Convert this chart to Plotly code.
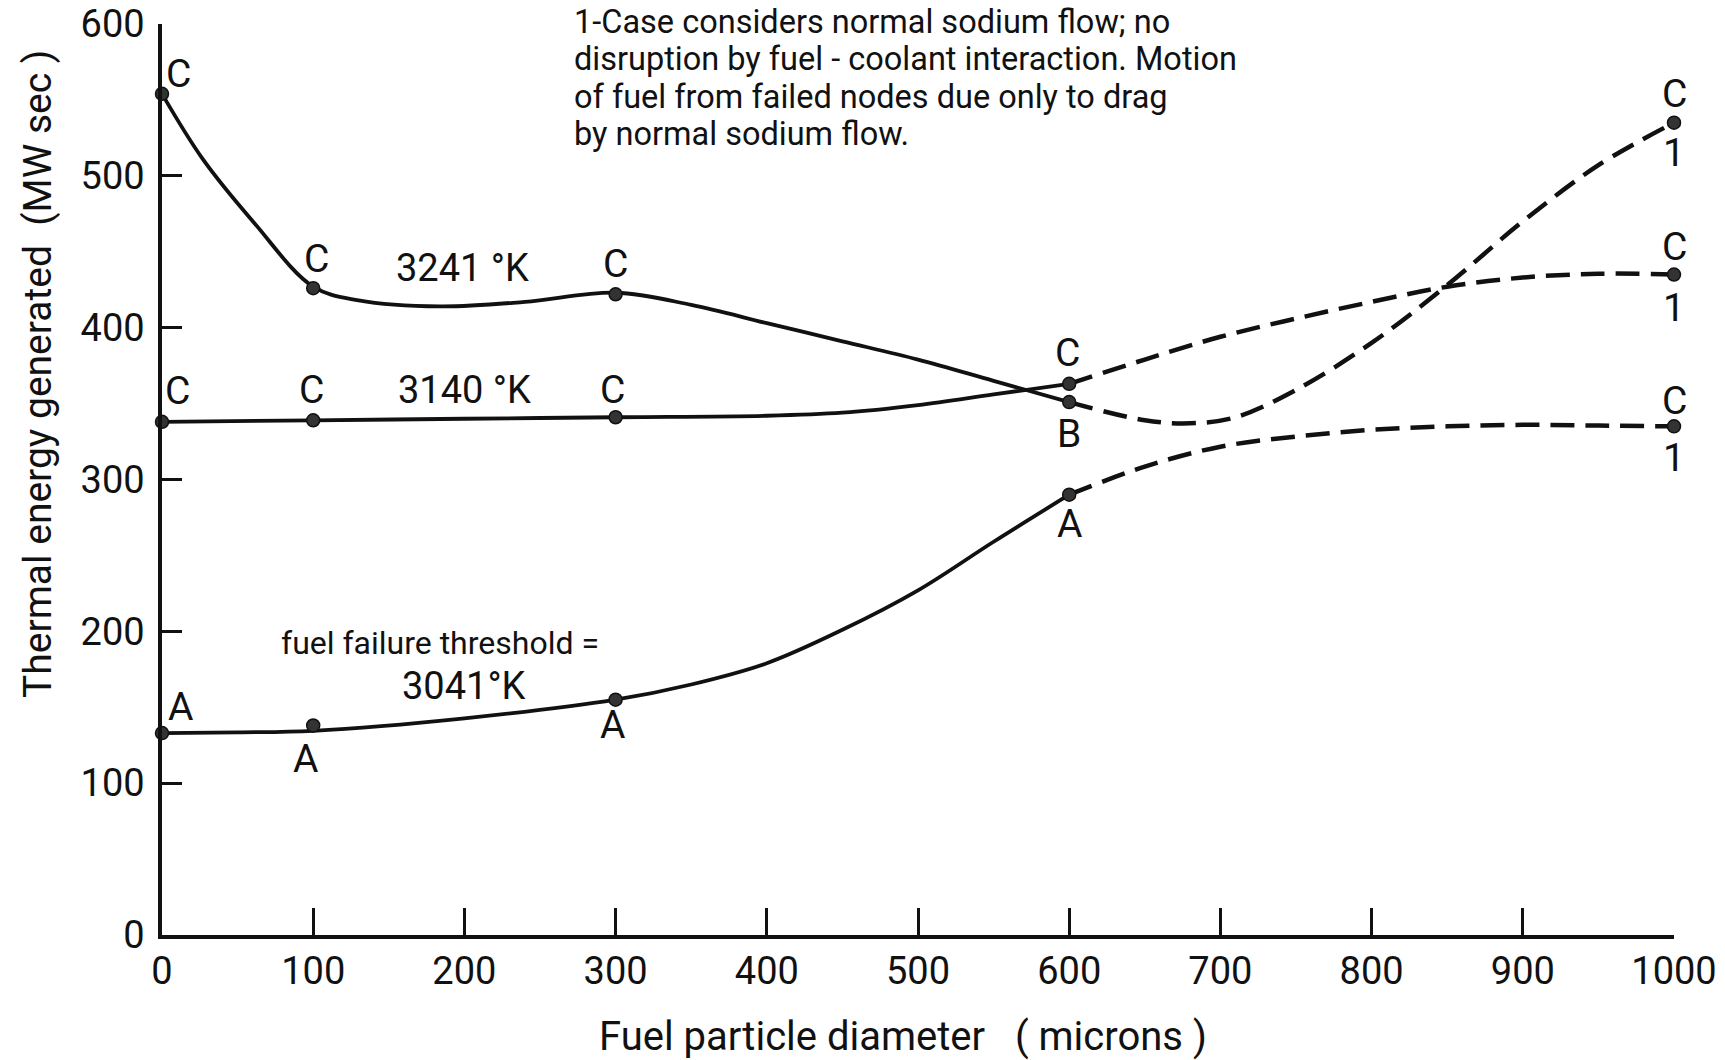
import plotly.graph_objects as go

# ---- data ----
# measured points (markers)
diam_pts = [0, 100, 300, 600]
e3241_pts = [554, 426, 422, 351]
e3140_pts = [338, 339, 341, 363]
e3041_pts = [133, 138, 155, 290]
diam_end = [1000]
e3241_end = [535]
e3140_end = [435]
e3041_end = [335]

# curve paths (solid part)
path3241_x = [0, 27, 61, 100, 130, 184, 240, 300, 350, 400, 450, 500, 550, 600]
path3241_y = [554, 511, 469, 427, 418, 414, 417, 423, 415, 403, 391, 379, 365, 351]
path3140_x = [0, 100, 200, 300, 400, 450, 500, 550, 600]
path3140_y = [338, 339, 340, 341, 342, 344, 349, 356, 363]
path3041_x = [0, 50, 100, 200, 300, 350, 400, 450, 500, 550, 600]
path3041_y = [133, 133.5, 134.5, 142.7, 155, 165, 179, 201, 227, 259, 290]

# dashed parts (case 1)
dash_x = [600, 650, 680, 710, 750, 800, 850, 900, 950, 1000]
dashB_y = [351, 339, 337, 341, 359, 390, 428, 470, 507, 535]
dash3140_x = [600, 650, 700, 750, 800, 850, 900, 950, 1000]
dash3140_y = [363, 379, 394, 406, 417, 427, 433, 435.5, 435]
dash3041_x = [600, 650, 700, 750, 800, 850, 900, 950, 1000]
dash3041_y = [290, 308.5, 321.6, 328.3, 332.7, 335, 336, 335.5, 335]

# point labels
lab_text = ["C", "C", "C", "B", "C", "1",
            "C", "C", "C", "C", "C", "1",
            "A", "A", "A", "A", "C", "1"]
lab_x = [11, 102, 300, 600, 1000, 1000,
         10, 99, 298, 599, 1000, 1000,
         12, 95, 298, 600, 1000, 1000]
lab_y = [567, 445, 442, 330, 554, 515,
         358, 359, 359, 383, 453, 413,
         150, 116, 138, 271, 352, 314]

temp_text = ["3241 °K", "3140 °K", "3041°K"]
temp_x = [199, 200, 200]
temp_y = [439, 359, 164]

note_lines = ["1-Case considers normal sodium flow; no",
              "disruption by fuel - coolant interaction. Motion",
              "of fuel from failed nodes due only to drag",
              "by normal sodium flow."]

x_ticks = list(range(0, 1001, 100))
y_ticks = list(range(0, 601, 100))

FONT = "Roboto, 'Noto Sans', sans-serif"
INK = "#111111"

# plot area in pixels (for placing text outside the axes)
L, R, T, B = 162, 51, 24, 125
W, H = 1725, 1060
PW, PH = W - L - R, H - T - B


def px_to_paper(xp, yp):
    return (xp - L) / PW, (H - B - yp) / PH


fig = go.Figure()

solid = dict(color=INK, width=3.8, shape="spline", smoothing=1.0)
dashed = dict(color=INK, width=4.5, shape="spline", smoothing=1.0, dash="24px,11px")

for px, py in [(path3241_x, path3241_y), (path3140_x, path3140_y), (path3041_x, path3041_y)]:
    fig.add_trace(go.Scatter(x=px, y=py, mode="lines", line=solid, cliponaxis=False,
                             showlegend=False, hoverinfo="skip"))
for px, py in [(dash_x, dashB_y), (dash3140_x, dash3140_y), (dash3041_x, dash3041_y)]:
    fig.add_trace(go.Scatter(x=px, y=py, mode="lines", line=dashed, cliponaxis=False,
                             showlegend=False, hoverinfo="skip"))

mk = dict(size=13, color="#333333", line=dict(color=INK, width=1.5))
for ys, ye in [(e3241_pts, e3241_end), (e3140_pts, e3140_end), (e3041_pts, e3041_end)]:
    fig.add_trace(go.Scatter(x=diam_pts + diam_end, y=ys + ye, mode="markers", marker=mk,
                             cliponaxis=False, showlegend=False))

for t, x, y in zip(lab_text, lab_x, lab_y):
    fig.add_annotation(x=x, y=y, text=t, showarrow=False, xref="x", yref="y",
                       xanchor="center", yanchor="middle",
                       font=dict(family=FONT, size=39, color=INK))

for t, x, y in zip(temp_text, temp_x, temp_y):
    fig.add_annotation(x=x, y=y, text=t, showarrow=False, xref="x", yref="y",
                       xanchor="center", yanchor="middle",
                       font=dict(family=FONT, size=38, color=INK))

fig.add_annotation(x=184, y=192, text="fuel failure threshold =", showarrow=False,
                   xref="x", yref="y", xanchor="center", yanchor="middle",
                   font=dict(family=FONT, size=32, color=INK))

for i, line in enumerate(note_lines):
    nx, ny = px_to_paper(572, 22 + 37.5 * i)
    fig.add_annotation(x=nx, y=ny, xanchor="left", yanchor="middle", align="left",
                       text=line, showarrow=False, xref="paper", yref="paper",
                       font=dict(family=FONT, size=32.5, color=INK))

yx, yy = px_to_paper(38, 374)
fig.add_annotation(xref="paper", yref="paper", x=yx, y=yy, xanchor="center", yanchor="middle",
                   text="Thermal energy generated  (MW sec )",
                   textangle=-90, showarrow=False, font=dict(family=FONT, size=39, color=INK))
tx, ty = px_to_paper(903, 1036)
fig.add_annotation(xref="paper", yref="paper", x=tx, y=ty, xanchor="center", yanchor="middle",
                   text="Fuel particle diameter   ( microns )",
                   showarrow=False, font=dict(family=FONT, size=40, color=INK))

fig.update_layout(
    width=W, height=H,
    margin=dict(l=L, r=R, t=T, b=B, autoexpand=False),
    paper_bgcolor="white", plot_bgcolor="white",
    font=dict(family=FONT, color=INK),
    showlegend=False,
    xaxis=dict(range=[0, 1000], tickvals=x_ticks, ticktext=[str(v) for v in x_ticks],
               ticks="inside", ticklen=27, tickwidth=3, tickcolor=INK, automargin=False,
               showline=True, linewidth=3.5, linecolor=INK, showgrid=False, zeroline=False,
               tickfont=dict(family=FONT, size=38, color=INK), ticklabelstandoff=0),
    yaxis=dict(range=[0, 600], tickvals=y_ticks, ticktext=[str(v) for v in y_ticks],
               ticks="inside", ticklen=20, tickwidth=3, tickcolor=INK, automargin=False,
               showline=True, linewidth=3.5, linecolor=INK, showgrid=False, zeroline=False,
               tickfont=dict(family=FONT, size=38, color=INK), ticklabelstandoff=6),
)

fig.write_html("out.html")
